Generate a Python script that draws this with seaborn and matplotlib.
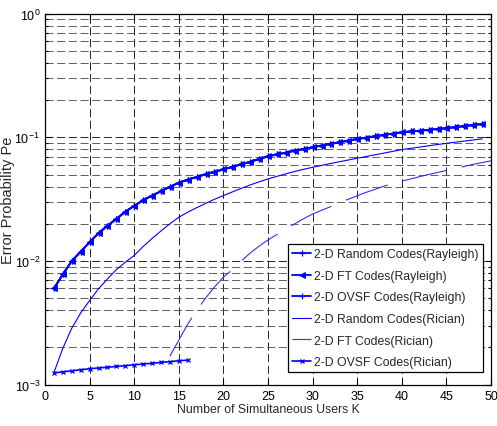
import numpy as np
import pandas as pd
import matplotlib
matplotlib.use("Agg")
import matplotlib.pyplot as plt
import matplotlib.ticker as mticker
from matplotlib import font_manager
import seaborn as sns

# Error probability versus number of simultaneous users
ray_k = list(range(1, 50))
ray_pe = [0.0060, 0.0078, 0.0100, 0.0119, 0.0142, 0.0168, 0.0193, 0.0219, 0.0250, 0.0280,
          0.0310, 0.0338, 0.0367, 0.0398, 0.0430, 0.0455, 0.0478, 0.0503, 0.0527, 0.0550,
          0.0578, 0.0605, 0.0634, 0.0668, 0.0703, 0.0728, 0.0753, 0.0780, 0.0805, 0.0832,
          0.0859, 0.0885, 0.0912, 0.0942, 0.0970, 0.0995, 0.1021, 0.1047, 0.1072, 0.1099,
          0.1117, 0.1132, 0.1151, 0.1169, 0.1186, 0.1211, 0.1233, 0.1259, 0.1282]

rice_rand_k = list(range(1, 50))
rice_rand_pe = [0.00125, 0.00197, 0.00286, 0.00380, 0.00479, 0.00596, 0.00716, 0.00851, 0.00977, 0.0111,
                0.0131, 0.0152, 0.0175, 0.0200, 0.0226, 0.0248, 0.0270, 0.0292, 0.0316, 0.0338,
                0.0362, 0.0387, 0.0412, 0.0437, 0.0461, 0.0484, 0.0507, 0.0530, 0.0552, 0.0573,
                0.0593, 0.0614, 0.0635, 0.0656, 0.0678, 0.0700, 0.0723, 0.0746, 0.0771, 0.0796,
                0.0815, 0.0834, 0.0855, 0.0875, 0.0895, 0.0914, 0.0933, 0.0953, 0.0971]

rice_ft_k = list(range(14, 51))
rice_ft_pe = [0.00170, 0.00229, 0.00309, 0.00398, 0.00501, 0.00617, 0.00741, 0.00851, 0.0100, 0.0116,
              0.0132, 0.0148, 0.0164, 0.0181, 0.0200, 0.0220, 0.0240, 0.0257, 0.0275, 0.0296,
              0.0316, 0.0337, 0.0359, 0.0380, 0.0403, 0.0424, 0.0443, 0.0461, 0.0481, 0.0501,
              0.0520, 0.0540, 0.0561, 0.0582, 0.0605, 0.0625, 0.0646]

rice_ovsf_k = list(range(1, 17))
rice_ovsf_pe = [0.001245, 0.00127, 0.001295, 0.00132, 0.001345, 0.001365, 0.001385, 0.001405,
                0.001425, 0.00145, 0.00147, 0.00149, 0.001515, 0.001535, 0.00156, 0.00158]

labels = ["2-D Random Codes(Rayleigh)", "2-D FT Codes(Rayleigh)", "2-D OVSF Codes(Rayleigh)",
          "2-D Random Codes(Rician)", "2-D FT Codes(Rician)", "2-D OVSF Codes(Rician)"]

x_ticks = list(range(0, 51, 5))

installed = {f.name for f in font_manager.fontManager.ttflist}
narrow = "Liberation Sans Narrow" if "Liberation Sans Narrow" in installed else "Liberation Sans"

sns.set_style("ticks")
plt.rcParams["font.family"] = [narrow, "DejaVu Sans"]
plt.rcParams["lines.scale_dashes"] = False
plt.rcParams["xtick.direction"] = "in"
plt.rcParams["ytick.direction"] = "in"
plt.rcParams["mathtext.default"] = "regular"

fig = plt.figure(figsize=(4.97, 4.27), dpi=100)
ax = fig.add_axes([0.0905, 0.0967, 0.8975, 0.8689])

grid_kw = dict(color="black", linewidth=0.6, linestyle=(0, (5.8, 2.6)))
ax.set_yscale("log")
ax.set_xlim(0, 50)
ax.set_ylim(1e-3, 1)
ax.set_xticks(x_ticks)
ax.yaxis.set_major_locator(mticker.LogLocator(base=10, numticks=10))
ax.yaxis.set_minor_locator(mticker.LogLocator(base=10, subs=np.arange(2, 10), numticks=20))
ax.yaxis.set_minor_formatter(mticker.NullFormatter())
ax.grid(True, which="major", axis="both", **grid_kw)
ax.grid(True, which="minor", axis="y", color="#444444", linewidth=0.6,
        linestyle=(0, (5.8, 2.6)))
ax.set_axisbelow(True)

blue = "#0000ff"
mk = dict(markeredgecolor=blue, markerfacecolor=blue)
sns.lineplot(x=ray_k, y=ray_pe, ax=ax, color=blue, linewidth=1.3, marker="+",
             markersize=4.5, markeredgewidth=0.9, label=labels[0], **mk)
sns.lineplot(x=ray_k, y=ray_pe, ax=ax, color=blue, linewidth=1.3, marker="<",
             markersize=5, markeredgewidth=0.6, label=labels[1], **mk)
sns.lineplot(x=ray_k, y=ray_pe, ax=ax, color=blue, linewidth=1.3, marker="+",
             markersize=4, markeredgewidth=0.9, label=labels[2], **mk)
sns.lineplot(x=rice_rand_k, y=rice_rand_pe, ax=ax, color=blue, linewidth=0.8,
             label=labels[3])
sns.lineplot(x=rice_ft_k, y=rice_ft_pe, ax=ax, color="#3030ff", linewidth=0.8,
             linestyle=(0, (32, 11.5)), label=labels[4])
sns.lineplot(x=rice_ovsf_k, y=rice_ovsf_pe, ax=ax, color=blue, linewidth=1.2, marker="x",
             markersize=3, markeredgewidth=0.9, label=labels[5], **mk)

ax.tick_params(which="both", top=True, right=True, labelsize=9, colors="black", width=0.8)
ax.tick_params(which="major", length=4.5)
ax.tick_params(which="minor", length=2.5)
for s in ax.spines.values():
    s.set_color("black")
    s.set_linewidth(0.9)

ax.set_xlabel("Number of Simultaneous Users K", fontsize=8.8, labelpad=1)
ax.set_ylabel("Error Probability Pe", fontsize=10.5,
              family=["Liberation Sans", "DejaVu Sans"])
ax.yaxis.set_label_coords(-0.068, 0.5)

leg = ax.legend(loc="lower right", bbox_to_anchor=(0.981, 0.0334), fontsize=8.8,
                frameon=True, fancybox=False, edgecolor="black", framealpha=1,
                handlelength=1.6, handletextpad=0.2, labelspacing=0.78,
                borderpad=0.35, borderaxespad=0)
leg.get_frame().set_linewidth(0.9)

fig.savefig("out.png", dpi=100)
